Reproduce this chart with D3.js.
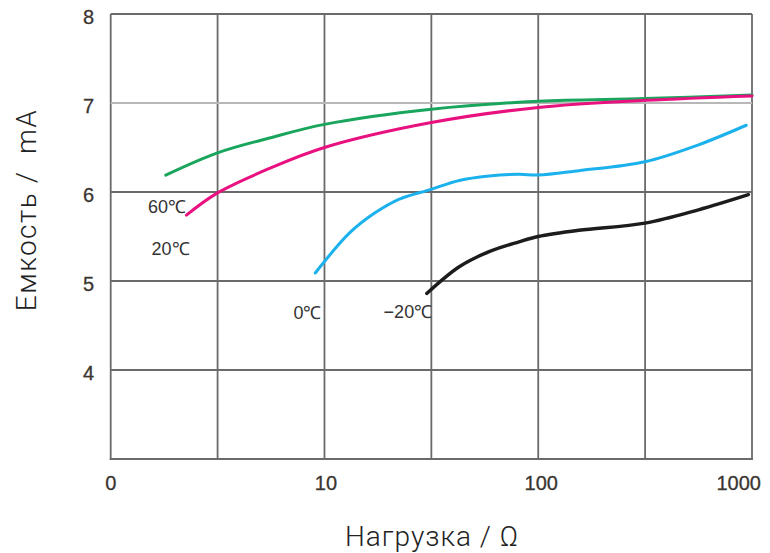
<!DOCTYPE html>
<html>
<head>
<meta charset="utf-8">
<script src="https://cdn.jsdelivr.net/npm/d3@7"></script>
<style>
  html, body { margin: 0; padding: 0; background: #fff; }
  svg { display: block; }
</style>
</head>
<body>
<svg id="chart" width="770" height="553"></svg>
<script>
// ---- data (load Ω on log axis, capacity mA) ----
const xTickValues = [1, 10, 100, 1000];
const xTickLabels = ["0", "10", "100", "1000"];
const xGridValues = [1, Math.sqrt(10), 10, Math.sqrt(1000), 100, Math.sqrt(100000), 1000];
const yTickValues = [4, 5, 6, 7, 8];
const yGridValues = [4, 5, 6, 7, 8];

const seriesNames = ["60℃", "20℃", "0℃", "−20℃"];
const seriesColors = ["#1aa55c", "#e8117f", "#1bb1ec", "#1c1c1c"];

const load60 = [1.81, 3.16, 5.6, 10, 31.6, 100, 316, 1000];
const cap60  = [6.19, 6.44, 6.61, 6.76, 6.93, 7.02, 7.05, 7.09];

const load20 = [2.26, 3.16, 5.6, 10, 31.6, 100, 316, 1000];
const cap20  = [5.74, 5.99, 6.27, 6.50, 6.78, 6.95, 7.03, 7.08];

const load0 = [9.06, 10, 13.1, 17.1, 22.4, 31.6, 42.7, 58.9, 81.3, 100, 155, 316, 562, 940];
const cap0  = [5.09, 5.22, 5.54, 5.76, 5.92, 6.03, 6.13, 6.18, 6.20, 6.19, 6.24, 6.34, 6.53, 6.75];

const loadM20 = [30.1, 42.7, 58.9, 81.3, 100, 155, 316, 562, 962];
const capM20  = [4.86, 5.16, 5.33, 5.44, 5.50, 5.57, 5.65, 5.80, 5.97];

const seriesLoads = [load60, load20, load0, loadM20];
const seriesCaps = [cap60, cap20, cap0, capM20];
// label anchor (right end of text) in data units
const labelLoads = [2.25, 2.34, 9.68, 31.9];
const labelCaps = [5.83, 5.36, 4.64, 4.65];

// ---- layout ----
const svg = d3.select("#chart");
const mLeft = 110.7, mRight = 752, mTop = 14, mBottom = 459;

const x = d3.scaleLog().domain([1, 1000]).range([mLeft, mRight]);
const y = d3.scaleLinear().domain([3, 8]).range([mBottom, mTop]);

const grid = svg.append("g");
grid.selectAll("line.v").data(xGridValues).enter().append("line")
  .attr("x1", d => x(d)).attr("x2", d => x(d))
  .attr("y1", mTop).attr("y2", mBottom)
  .attr("stroke", "#6a6a6a").attr("stroke-width", 1.8);
grid.selectAll("line.h").data(yGridValues).enter().append("line")
  .attr("x1", mLeft).attr("x2", mRight)
  .attr("y1", d => y(d)).attr("y2", d => y(d))
  .attr("stroke", d => d === 7 ? "#b8b8b8" : "#6a6a6a").attr("stroke-width", 1.8);
grid.append("line").attr("x1", mLeft - 1).attr("x2", mRight + 1)
  .attr("y1", y(3)).attr("y2", y(3))
  .attr("stroke", "#6a6a6a").attr("stroke-width", 2.2);

// curves
const line = d3.line().x(d => x(d[0])).y(d => y(d[1])).curve(d3.curveCatmullRom.alpha(0.5));
seriesLoads.forEach((loads, i) => {
  const pts = loads.map((l, j) => [l, seriesCaps[i][j]]);
  svg.append("path").datum(pts)
    .attr("d", line)
    .attr("fill", "none")
    .attr("stroke", seriesColors[i])
    .attr("stroke-width", i === 3 ? 3.4 : 3)
    .attr("stroke-linecap", "round");
});

// series labels
seriesNames.forEach((name, i) => {
  svg.append("text")
    .attr("x", x(labelLoads[i]))
    .attr("y", y(labelCaps[i]))
    .attr("text-anchor", "end")
    .attr("dominant-baseline", "central")
    .attr("font-family", "Liberation Sans, Arial, sans-serif")
    .attr("font-size", 18)
    .attr("fill", "#333")
    .text(name);
});

// y tick labels
svg.selectAll("text.ytick").data(yTickValues).enter().append("text")
  .attr("x", 94)
  .attr("y", d => y(d) + 3)
  .attr("text-anchor", "end")
  .attr("dominant-baseline", "central")
  .attr("font-family", "Liberation Sans, Arial, sans-serif")
  .attr("font-size", 20)
  .attr("fill", "#3a3530")
  .attr("stroke", "#3a3530").attr("stroke-width", 0.3)
  .text(d => d);

// x tick labels
svg.selectAll("text.xtick").data(xTickValues).enter().append("text")
  .attr("x", (d, i) => i === xTickValues.length - 1 ? x(d) + 9 : x(d) + i * 1.5)
  .attr("y", 490)
  .attr("text-anchor", (d, i) => i === xTickValues.length - 1 ? "end" : "middle")
  .attr("font-family", "Liberation Sans, Arial, sans-serif")
  .attr("font-size", 20)
  .attr("fill", "#3a3530")
  .attr("stroke", "#3a3530").attr("stroke-width", 0.3)
  .text((d, i) => xTickLabels[i]);

// axis titles
svg.append("text")
  .attr("x", 432).attr("y", 546)
  .attr("text-anchor", "middle")
  .attr("font-family", "Roboto, sans-serif")
  .attr("font-weight", 300)
  .attr("font-size", 28)
  .attr("letter-spacing", 1)
  .attr("fill", "#222")
  .text("Нагрузка / Ω");

svg.append("text")
  .attr("transform", "translate(36,210) rotate(-90)")
  .attr("text-anchor", "middle")
  .attr("font-family", "Roboto, sans-serif")
  .attr("font-weight", 300)
  .attr("font-size", 28)
  .attr("letter-spacing", 1.5)
  .attr("fill", "#222")
  .attr("xml:space", "preserve")
  .text("Емкость /  mA");
</script>
</body>
</html>
